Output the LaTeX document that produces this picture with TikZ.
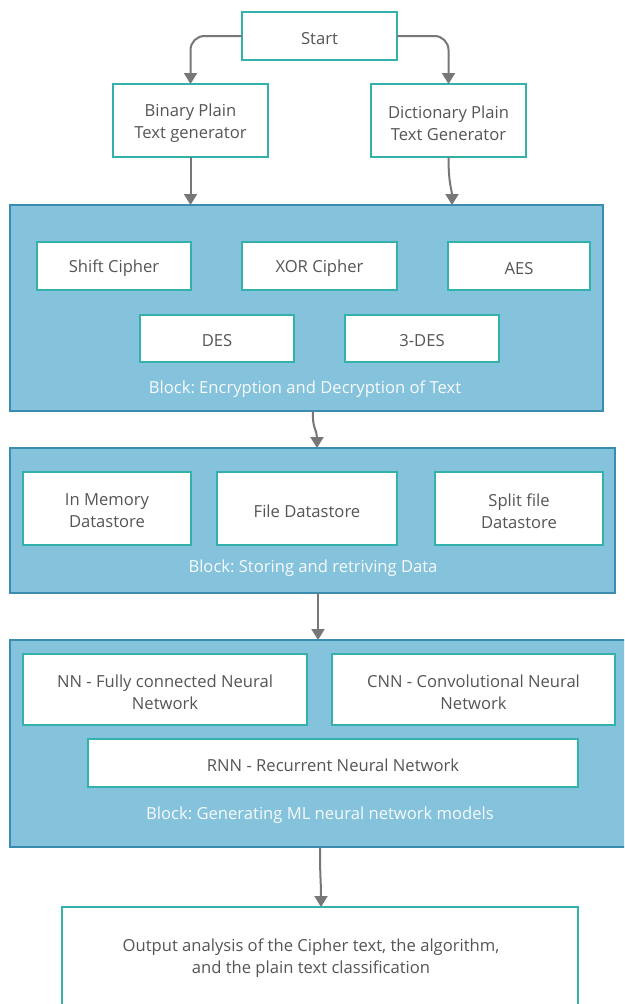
\documentclass[tikz,border=0pt]{standalone}
\usepackage{fontspec}
\setmainfont{Open Sans}
\usetikzlibrary{arrows.meta}
\frenchspacing
\definecolor{teal1}{HTML}{33B2AC}
\definecolor{blockfill}{HTML}{85C2DC}
\definecolor{blockdraw}{HTML}{3A8DB0}
\definecolor{txt}{HTML}{555555}
\definecolor{arrowc}{HTML}{777777}
\tikzset{
  wbox/.style={draw=teal1, line width=1.6pt, fill=white, inner sep=0pt, outer sep=0pt},
  wtext/.style={align=center, text=txt, inner sep=0pt, font=\fontsize{16.6}{22}\selectfont},
  blockbox/.style={draw=blockdraw, line width=1.6pt, fill=blockfill, inner sep=0pt, outer sep=0pt},
  blocklabel/.style={text=white!94!blockfill, font=\fontsize{16.6}{22}\selectfont, inner sep=0pt},
  arr/.style={draw=arrowc, line width=2pt, -{Triangle[width=13pt,length=11pt]}, fill=none}
}
% #1 name, #2 centre, #3 width, #4 height, #5 text
\newcommand\mybox[5]{%
  \node[wbox, minimum width=#3, minimum height=#4] (#1) at #2 {};
  \node[wtext] (#1-t) at ([yshift=-2.5pt]#1.center) {#5};
}
\begin{document}
\begin{tikzpicture}[x=1pt,y=-1pt]
\useasboundingbox (0,0) rectangle (624,1004);
\clip (0,0) rectangle (624,1004);
\fill[white] (0,0) rectangle (624,1004);

% blocks
\node[blockbox, minimum width=593pt, minimum height=206pt] (b1) at (306.5,308) {};
\node[blockbox, minimum width=605pt, minimum height=145pt] (b2) at (312.5,520.5) {};
\node[blockbox, minimum width=630pt, minimum height=207pt] (b3) at (325,743.5) {};

% top
\mybox{start}{(319.5,36)}{155pt}{48pt}{Start}
\mybox{bin}{(190.5,120.5)}{155pt}{73pt}{Binary Plain\\Text generator}
\mybox{dict}{(448.5,120.5)}{155pt}{73pt}{Dictionary Plain\\Text Generator}

% block 1
\mybox{shift}{(114,266)}{154pt}{48pt}{Shift Cipher}
\mybox{xor}{(319.5,266)}{155pt}{48pt}{XOR Cipher}
\mybox{aes}{(519,266)}{142pt}{48pt}{AES}
\mybox{des}{(217,338.5)}{154pt}{47pt}{DES}
\mybox{tdes}{(422,338.5)}{154pt}{47pt}{3-DES}
\node[blocklabel] (l1) at (305,389) {Block: Encryption and Decryption of Text};

% block 2
\mybox{mem}{(107,508.5)}{168pt}{73pt}{In Memory\\Datastore}
\mybox{file}{(307,508.5)}{180pt}{73pt}{File Datastore}
\mybox{split}{(519,508.5)}{168pt}{73pt}{Split file\\Datastore}
\node[blocklabel] (l2) at (313,568.5) {Block: Storing and retriving Data};

% block 3
\mybox{nn}{(165,689.5)}{284pt}{71pt}{NN - Fully connected Neural\\Network}
\mybox{cnn}{(473.5,689.5)}{283pt}{71pt}{CNN - Convolutional Neural\\Network}
\mybox{rnn}{(333,763)}{490pt}{48pt}{RNN - Recurrent Neural Network}
\node[blocklabel] (l3) at (320,815) {Block: Generating ML neural network models};

% output
\node[wbox, minimum width=516pt, minimum height=110pt] (out) at (320,962) {};
\node[wtext] (out-t) at (311,958.5) {Output analysis of the Cipher text, the algorithm,\\and the plain text classification};

% connectors
\draw[arr, rounded corners=14pt] (start.west) -| (bin.north);
\draw[arr, rounded corners=14pt] (start.east) -| (dict.north);
\draw[arr] (bin.south) -- (bin.south |- b1.north);
\coordinate (d1) at (452,205);
\draw[arr] (dict.south) .. controls (448.5,185) and (452,190) .. (d1);
\coordinate (c1a) at (313,411);
\coordinate (c1b) at (317,448);
\draw[arr] (c1a) .. controls (312,428) and (317,430) .. (c1b);
\coordinate (c2a) at (318,593);
\coordinate (c2b) at (318,640);
\draw[arr] (c2a) -- (c2b);
\coordinate (c3a) at (320,847);
\coordinate (c3b) at (321,907);
\draw[arr] (c3a) .. controls (320,880) and (321,880) .. (c3b);
\end{tikzpicture}
\end{document}
